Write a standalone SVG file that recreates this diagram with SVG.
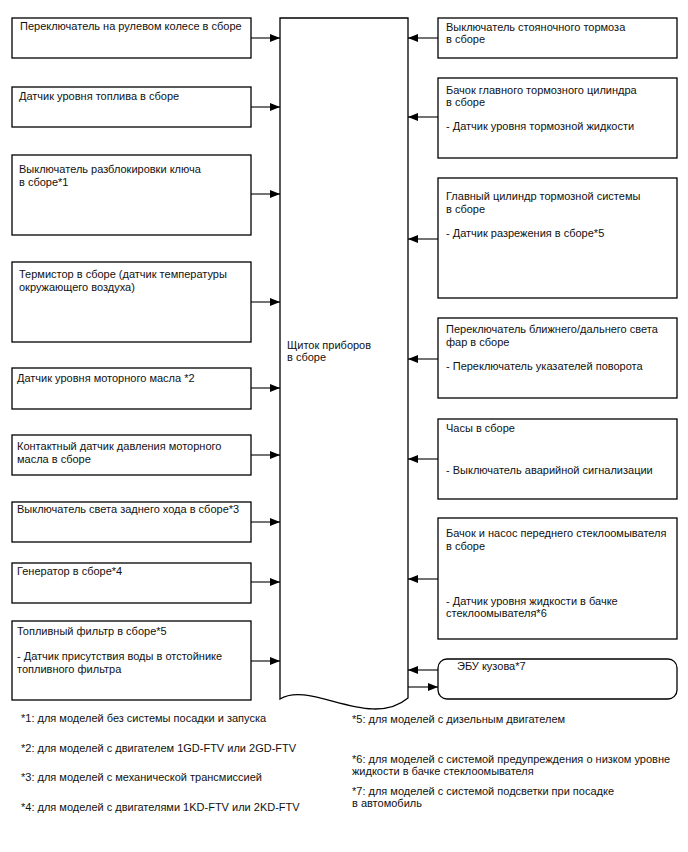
<svg xmlns="http://www.w3.org/2000/svg" width="688" height="852" viewBox="0 0 688 852">
<style>
.b{fill:#fff;stroke:#000;stroke-width:1.3}
.c{fill:none;stroke:#000;stroke-width:1.1}
text{font-family:"Liberation Sans",Arial,sans-serif;font-size:11px;fill:#111}
</style>
<defs>
<marker id="ah" viewBox="0 0 10 8" refX="10" refY="4" markerWidth="10" markerHeight="8" markerUnits="userSpaceOnUse" orient="auto"><path d="M0,0 L10,4 L0,8 Z" fill="#000"/></marker>
</defs>
<rect width="688" height="852" fill="#fff"/>

<g id="panel">
<path class="b" d="M280,699 V18 H408 V698 C370,730 310,680 280,699 Z"/>
<text x="287" y="349">Щиток приборов</text>
<text x="287" y="361">в сборе</text>
</g>

<g id="n1"><rect class="b" x="12" y="18" width="239" height="40"/><text x="20" y="30">Переключатель на рулевом колесе в сборе</text></g>
<g id="n2"><rect class="b" x="12" y="87" width="239" height="40"/><text x="19" y="100">Датчик уровня топлива в сборе</text></g>
<g id="n3"><rect class="b" x="12" y="155" width="239" height="80"/><text x="19" y="173">Выключатель разблокировки ключа</text><text x="19" y="186">в сборе*1</text></g>
<g id="n4"><rect class="b" x="12" y="262" width="239" height="80"/><text x="19" y="278">Термистор в сборе (датчик температуры</text><text x="19" y="291">окружающего воздуха)</text></g>
<g id="n5"><rect class="b" x="12" y="368" width="239" height="41"/><text x="17" y="382">Датчик уровня моторного масла *2</text></g>
<g id="n6"><rect class="b" x="12" y="435" width="239" height="40"/><text x="17" y="450">Контактный датчик давления моторного</text><text x="17" y="463">масла в сборе</text></g>
<g id="n7"><rect class="b" x="12" y="502" width="239" height="40"/><text x="17" y="513">Выключатель света заднего хода в сборе*3</text></g>
<g id="n8"><rect class="b" x="12" y="563" width="239" height="40"/><text x="17" y="575">Генератор в сборе*4</text></g>
<g id="n9"><rect class="b" x="12" y="621" width="239" height="79"/><text x="17" y="635">Топливный фильтр в сборе*5</text><text x="17" y="660">- Датчик присутствия воды в отстойнике</text><text x="17" y="673">топливного фильтра</text></g>

<g id="r1"><rect class="b" x="438" y="18" width="239" height="40"/><text x="446" y="31">Выключатель стояночного тормоза</text><text x="446" y="43">в сборе</text></g>
<g id="r2"><rect class="b" x="438" y="78" width="239" height="80"/><text x="446" y="94">Бачок главного тормозного цилиндра</text><text x="446" y="106">в сборе</text><text x="446" y="130">- Датчик уровня тормозной жидкости</text></g>
<g id="r3"><rect class="b" x="438" y="178" width="239" height="120"/><text x="446" y="200">Главный цилиндр тормозной системы</text><text x="446" y="213">в сборе</text><text x="446" y="237">- Датчик разрежения в сборе*5</text></g>
<g id="r4"><rect class="b" x="438" y="318" width="239" height="80"/><text x="446" y="333">Переключатель ближнего/дальнего света</text><text x="446" y="346">фар в сборе</text><text x="446" y="370">- Переключатель указателей поворота</text></g>
<g id="r5"><rect class="b" x="438" y="419" width="239" height="80"/><text x="446" y="432">Часы в сборе</text><text x="446" y="474">- Выключатель аварийной сигнализации</text></g>
<g id="r6"><rect class="b" x="438" y="518" width="239" height="121"/><text x="446" y="537">Бачок и насос переднего стеклоомывателя</text><text x="446" y="550">в сборе</text><text x="446" y="605">- Датчик уровня жидкости в бачке</text><text x="446" y="617">стеклоомывателя*6</text></g>
<g id="r7"><rect class="b" x="438" y="659" width="239" height="40" rx="9" ry="9"/><text x="457" y="670">ЭБУ кузова*7</text></g>

<g id="connectors">
<line class="c" x1="251" y1="38" x2="280" y2="38" marker-end="url(#ah)"/>
<line class="c" x1="251" y1="107" x2="280" y2="107" marker-end="url(#ah)"/>
<line class="c" x1="251" y1="194" x2="280" y2="194" marker-end="url(#ah)"/>
<line class="c" x1="251" y1="302" x2="280" y2="302" marker-end="url(#ah)"/>
<line class="c" x1="251" y1="388" x2="280" y2="388" marker-end="url(#ah)"/>
<line class="c" x1="251" y1="455" x2="280" y2="455" marker-end="url(#ah)"/>
<line class="c" x1="251" y1="522" x2="280" y2="522" marker-end="url(#ah)"/>
<line class="c" x1="251" y1="582" x2="280" y2="582" marker-end="url(#ah)"/>
<line class="c" x1="251" y1="661" x2="280" y2="661" marker-end="url(#ah)"/>
<line class="c" x1="438" y1="38" x2="408" y2="38" marker-end="url(#ah)"/>
<line class="c" x1="438" y1="117" x2="408" y2="117" marker-end="url(#ah)"/>
<line class="c" x1="438" y1="239" x2="408" y2="239" marker-end="url(#ah)"/>
<line class="c" x1="438" y1="359" x2="408" y2="359" marker-end="url(#ah)"/>
<line class="c" x1="438" y1="459" x2="408" y2="459" marker-end="url(#ah)"/>
<line class="c" x1="438" y1="579" x2="408" y2="579" marker-end="url(#ah)"/>
<line class="c" x1="438" y1="670" x2="408" y2="670" marker-end="url(#ah)"/>
<line class="c" x1="408" y1="687" x2="438" y2="687" marker-end="url(#ah)"/>
</g>

<g id="notes">
<text x="21" y="722">*1: для моделей без системы посадки и запуска</text>
<text x="21" y="752">*2: для моделей с двигателем 1GD-FTV или 2GD-FTV</text>
<text x="21" y="781">*3: для моделей с механической трансмиссией</text>
<text x="21" y="811">*4: для моделей с двигателями 1KD-FTV или 2KD-FTV</text>
<text x="352" y="723">*5: для моделей с дизельным двигателем</text>
<text x="352" y="763">*6: для моделей с системой предупреждения о низком уровне</text>
<text x="352" y="775">жидкости в бачке стеклоомывателя</text>
<text x="352" y="795">*7: для моделей с системой подсветки при посадке</text>
<text x="352" y="807">в автомобиль</text>
</g>
</svg>
